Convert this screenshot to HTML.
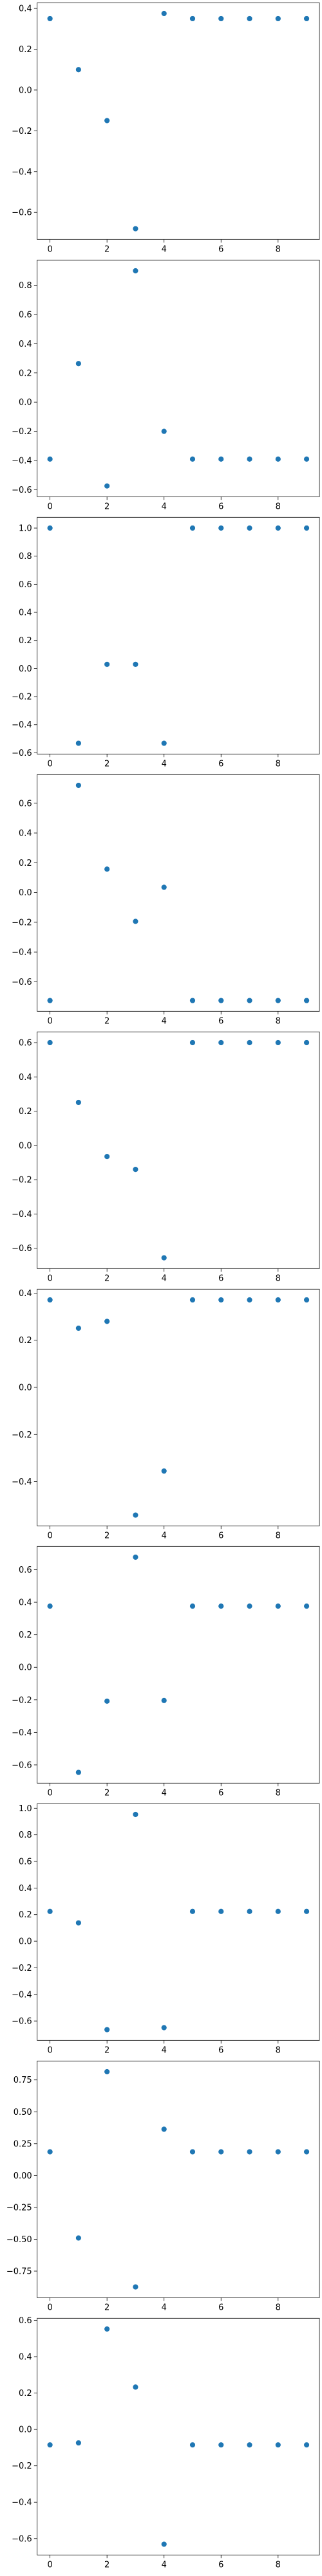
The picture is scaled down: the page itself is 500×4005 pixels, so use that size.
<!DOCTYPE html>
<html><head><meta charset="utf-8"><style>
body{margin:0;background:#fff;}
svg text{font-family:"DejaVu Sans","Liberation Sans",sans-serif;font-size:13px;fill:#000;}
</style></head><body>
<svg id="fig" width="500" height="4000" xmlns="http://www.w3.org/2000/svg"></svg>
<script>
const xCats=[0,1,2,3,4,5,6,7,8,9];
const xTicks=[0,2,4,6,8];
const s1=[0.35,0.10,-0.15,-0.68,0.375,0.35,0.35,0.35,0.35,0.35];
const s2=[-0.39,0.264,-0.574,0.899,-0.2,-0.39,-0.39,-0.39,-0.39,-0.39];
const s3=[1.0,-0.532,0.03,0.03,-0.532,1.0,1.0,1.0,1.0,1.0];
const s4=[-0.726,0.72,0.157,-0.194,0.035,-0.726,-0.726,-0.726,-0.726,-0.726];
const s5=[0.6,0.251,-0.065,-0.14,-0.656,0.6,0.6,0.6,0.6,0.6];
const s6=[0.371,0.251,0.28,-0.542,-0.355,0.371,0.371,0.371,0.371,0.371];
const s7=[0.376,-0.646,-0.208,0.677,-0.204,0.376,0.376,0.376,0.376,0.376];
const s8=[0.224,0.138,-0.665,0.953,-0.65,0.224,0.224,0.224,0.224,0.224];
const s9=[0.186,-0.49,0.814,-0.874,0.363,0.186,0.186,0.186,0.186,0.186];
const s10=[-0.085,-0.074,0.552,0.233,-0.631,-0.085,-0.085,-0.085,-0.085,-0.085];
const t1=["0.4","0.2","0.0","-0.2","-0.4","-0.6"];
const t2=["0.8","0.6","0.4","0.2","0.0","-0.2","-0.4","-0.6"];
const t3=["1.0","0.8","0.6","0.4","0.2","0.0","-0.2","-0.4","-0.6"];
const t4=["0.6","0.4","0.2","0.0","-0.2","-0.4","-0.6"];
const t5=["0.6","0.4","0.2","0.0","-0.2","-0.4","-0.6"];
const t6=["0.4","0.2","0.0","-0.2","-0.4"];
const t7=["0.6","0.4","0.2","0.0","-0.2","-0.4","-0.6"];
const t8=["1.0","0.8","0.6","0.4","0.2","0.0","-0.2","-0.4","-0.6"];
const t9=["0.75","0.50","0.25","0.00","-0.25","-0.50","-0.75"];
const t10=["0.6","0.4","0.2","0.0","-0.2","-0.4","-0.6"];
const series=[s1,s2,s3,s4,s5,s6,s7,s8,s9,s10];
const ticks=[t1,t2,t3,t4,t5,t6,t7,t8,t9,t10];
const NS="http://www.w3.org/2000/svg";
const svg=document.getElementById('fig');
const L=57.7,R=496,H=368,xmin=-0.45,xmax=9.45;
function mk(tag,attrs,parent){const e=document.createElementNS(NS,tag);for(const k in attrs)e.setAttribute(k,attrs[k]);parent.appendChild(e);return e;}
const xs=v=>L+(v-xmin)/(xmax-xmin)*(R-L);
series.forEach((data,i)=>{
  const top=4.3+400*i,bot=top+H;
  const mn=Math.min(...data),mx=Math.max(...data),r=mx-mn;
  const y0=mn-0.05*r,y1=mx+0.05*r;
  const ys=v=>bot-(v-y0)/(y1-y0)*H;
  const g=mk('g',{},svg);
  
  
  ticks[i].forEach(t=>{
    const v=parseFloat(t);const y=ys(v);
    const ln=mk('line',{x1:L-4.9,x2:L,y1:y,y2:y,stroke:'#000','stroke-width':0.8},g);
    
    
    const tx=mk('text',{x:L-8,y:y+4.5,'text-anchor':'end'},g);
    
    
    tx.textContent=t.replace('-','\u2212');
  });
  xTicks.forEach(t=>{
    const x=xs(t);
    const ln=mk('line',{x1:x,x2:x,y1:bot,y2:bot+4.9,stroke:'#000','stroke-width':0.8},g);
    
    
    const tx=mk('text',{x:x,y:bot+19,'text-anchor':'middle'},g);
    
    
    tx.textContent=String(t);
  });
  data.forEach((v,j)=>{
    const c=mk('circle',{cx:xs(xCats[j]),cy:ys(v),r:4.4,fill:'#1f77b4',stroke:'#fff','stroke-width':0.6},g);
    
    
  });
  const fr=mk('rect',{x:L,y:top,width:R-L,height:H,fill:'none',stroke:'#000','stroke-width':0.8},g);
  
  
});
</script>
</body></html>
